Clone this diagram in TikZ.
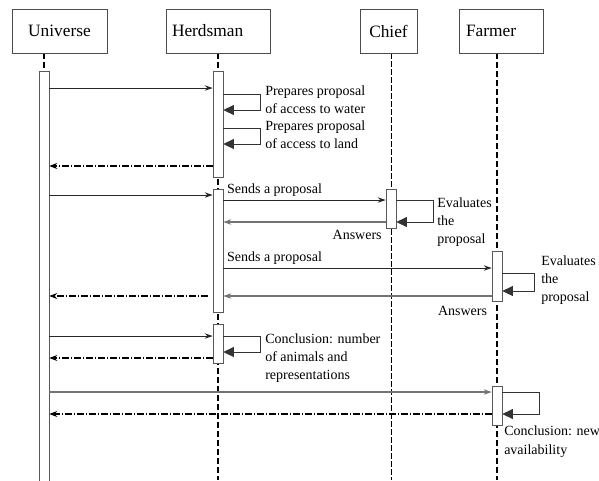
\documentclass[tikz,border=0pt]{standalone}
\usepackage{fontspec}
\setmainfont{Liberation Serif}
\usepackage{tikz}
\usetikzlibrary{positioning}
\usetikzlibrary{arrows.meta,backgrounds}
\tikzset{msg/.style = {-{Stealth[length=6pt,width=4pt]}, color=black!85, line width=0.7pt}}
\tikzset{ans/.style = {-{Stealth[length=6pt,width=4pt]}, color=black!55, line width=1.1pt}}
\tikzset{ret/.style = {-{Stealth[length=6pt,width=4.5pt]}, color=black, line width=0.8pt, dash pattern=on 5pt off 1.5pt on 1pt off 1.5pt}}
\tikzset{selfmsg/.style = {-{Triangle[length=8pt,width=7.5pt]}, draw=black!80, line width=0.7pt}}

\begin{document}
\begin{tikzpicture}[x=0.75pt,y=-0.75pt,font=\fontsize{10.5}{13.75}\selectfont,
    actor/.style={draw=black!70,minimum height=33pt,font=\fontsize{13}{15}\selectfont},
    bar/.style={draw=black!65,fill=white,minimum width=7.5pt,inner sep=0pt},
    note/.style={align=left,inner sep=0pt},
    life/.style={line width=1.3pt,dash pattern=on 4.5pt off 2.25pt}]
            \useasboundingbox (0,0) rectangle (599,480);

            \node[actor,minimum width=71.25pt] (u) at (59.5,31) {Universe};
            \node[actor,text width=69pt,inner xsep=4.5pt,align=left] (h) at (218,31) {Herdsman};
            \node[actor,minimum width=42.75pt] (c) at (388.5,31) {Chief};
            \node[actor,text width=52.5pt,inner xsep=5.25pt,align=left] (f) at (501,31) {Farmer};

            \node[bar,minimum height=314.25pt] (u1) at (44,280.5) {};
            \node[bar,minimum height=79.5pt] (h1) at (218,124) {};
            \node[bar,minimum height=92.25pt] (h2) at (218,250.5) {};
            \node[bar,minimum height=29.25pt] (h3) at (218,343.5) {};
            \node[bar,minimum height=29.25pt] (c1) at (391,208.5) {};
            \node[bar,minimum height=37.5pt] (f1) at (497,276) {};
            \node[bar,minimum height=29.25pt] (f2) at (497,405.5) {};

            \begin{scope}[on background layer]
            \draw[life,line width=1pt] (u.south -| u1) -- (u1.north);
            \draw[life] (h.south) -- (h.south |- 0,480);
            \draw[life,line width=0.6pt,dash pattern=on 4pt off 2pt] (c1 |- c.south) -- (c1 |- 0,480);
            \draw[life] (f1 |- f.south) -- (f1 |- 0,480);
            \end{scope}

            % first round: proposals
            \path[msg] (u1.east |- 0,88) edge (h1.west |- 0,88);
            \draw[selfmsg] (h1.east |- 0,94) -- ++(37,0) |- (h1.east |- 0,110);
            \node[note,anchor=west] (n1) at (265,100) {Prepares proposal\\of access to water};
            \draw[selfmsg] (h1.east |- 0,128) -- ++(37,0) |- (h1.east |- 0,144);
            \node[note,anchor=west] (n2) at (265,135) {Prepares proposal\\of access to land};
            \path[ret] (h1.west |- 0,166) edge (u1.east |- 0,166);

            % second round: asking chief and farmer
            \path[msg] (u1.east |- 0,195) edge (h2.west |- 0,195);
            \path[msg] (h2.east |- 0,200) edge node[pos=0,above right,inner sep=2.5pt,black] {Sends a proposal} (c1.west |- 0,200);
            \draw[selfmsg] (c1.east |- 0,200) -- ++(37,0) |- (c1.east |- 0,222);
            \node[note,anchor=west] (n3) at (437,222) {Evaluates\\the\\proposal};
            \path[ans] (c1.west |- 0,222) edge node[pos=0,below left,inner xsep=2.5pt,inner ysep=6pt,black] {Answers} (h2.east |- 0,222);

            \path[msg] (h2.east |- 0,268) edge node[pos=0,above right,inner sep=2.5pt,black] {Sends a proposal} (f1.west |- 0,268);
            \draw[selfmsg] (f1.east |- 0,273) -- ++(32,0) |- (f1.east |- 0,291);
            \node[note,anchor=west] (n4) at (541,280) {Evaluates\\the\\proposal};
            \path[ans] (f1.west |- 0,296) edge node[pos=0,below left,inner xsep=3pt,inner ysep=7pt,black] {Answers} (h2.east |- 0,296);
            \path[ret] (208,296) edge (u1.east |- 0,296);

            % conclusions
            \path[msg] (u1.east |- 0,336) edge (h3.west |- 0,336);
            \draw[selfmsg] (h3.east |- 0,336) -- ++(37,0) |- (h3.east |- 0,352);
            \node[note,anchor=west] (n5) at (265,358) {Conclusion: number\\of animals and\\representations};
            \path[ret] (h3.west |- 0,358) edge (u1.east |- 0,358);

            \path[ans,line width=0.9pt] (u1.east |- 0,392) edge (f2.west |- 0,392);
            \draw[selfmsg] (f2.east |- 0,392) -- ++(37,0) |- (f2.east |- 0,414);
            \path[ret] (f2.west |- 0,414) edge (u1.east |- 0,414);
            \node[note,anchor=north west] (n6) at (504,426) {Conclusion: new\\availability};

        \end{tikzpicture}
\end{document}
